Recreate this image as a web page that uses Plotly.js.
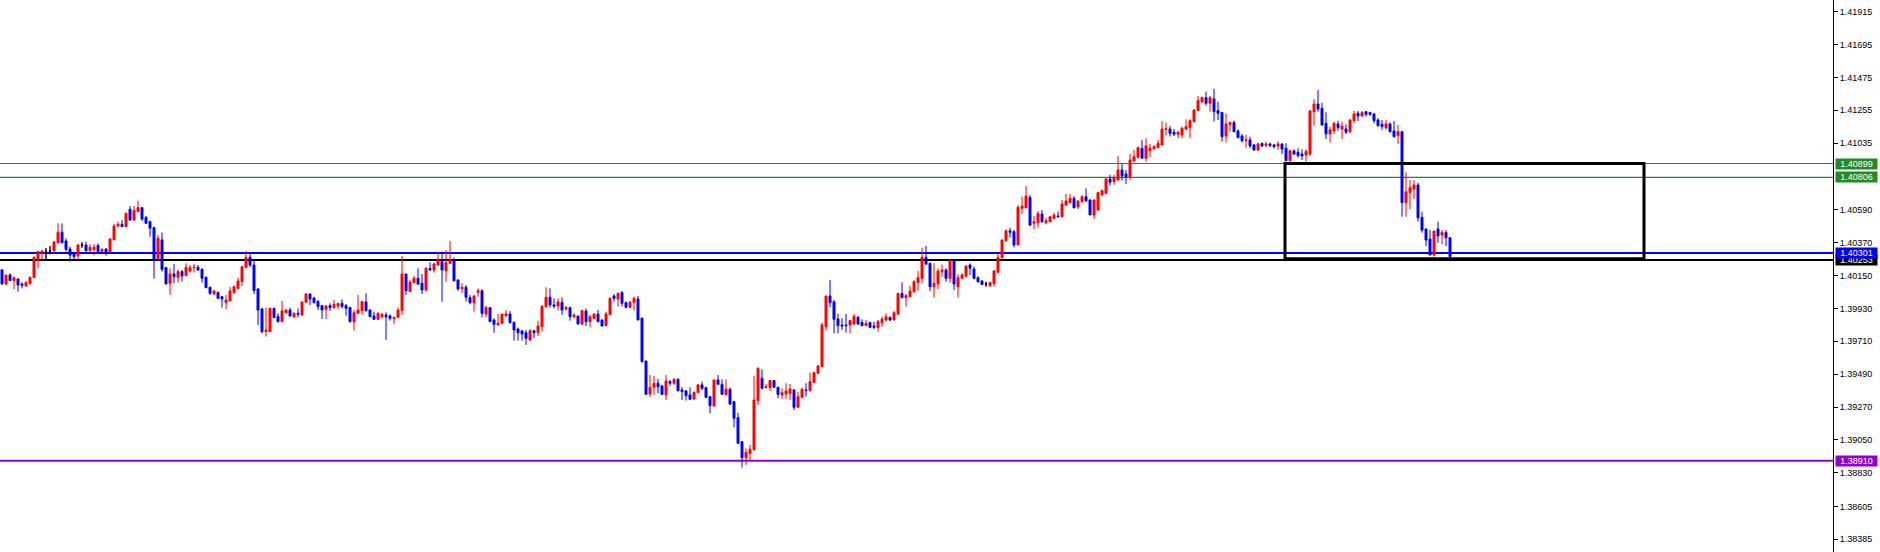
<!DOCTYPE html>
<html>
<head>
<meta charset="utf-8">
<script src="https://cdn.plot.ly/plotly-3.0.1.min.js"></script>
<style>
  html, body { margin: 0; padding: 0; background: #ffffff; }
  #chart { width: 1880px; height: 552px; }
</style>
</head>
<body>
<div id="chart"></div>
<script>
// ---------- DATA ----------
const open = [
1.40187,1.40093,1.40153,1.40116,1.40127,1.40093,1.40080,1.40098,1.40136,1.40258,
1.40303,1.40310,1.40314,1.40314,1.40370,1.40439,1.40381,1.40327,1.40298,1.40281,
1.40354,1.40354,1.40316,1.40325,1.40350,1.40310,1.40327,1.40307,1.40388,1.40481,
1.40492,1.40477,1.40593,1.40521,1.40577,1.40604,1.40539,1.40510,1.40470,1.40261,
1.40388,1.40203,1.40098,1.40160,1.40138,1.40176,1.40149,1.40180,1.40203,1.40205,
1.40191,1.40138,1.40071,1.40026,1.40037,1.40008,1.39968,1.39982,1.40037,1.40064,
1.40109,1.40205,1.40272,1.40220,1.40060,1.39926,1.39774,1.39774,1.39930,1.39875,
1.39841,1.39901,1.39919,1.39875,1.39897,1.39886,1.39971,1.40026,1.39999,1.39975,
1.39948,1.39924,1.39948,1.39935,1.39946,1.39964,1.39948,1.39935,1.39841,1.39897,
1.39915,1.39973,1.39919,1.39879,1.39857,1.39874,1.39886,1.39879,1.39861,1.39870,
1.39915,1.40160,1.40042,1.40102,1.40131,1.40098,1.40053,1.40198,1.40187,1.40220,
1.40249,1.40182,1.40231,1.40254,1.40120,1.40062,1.40071,1.40002,1.39968,1.40037,
1.40048,1.39892,1.39935,1.39852,1.39819,1.39830,1.39883,1.39892,1.39837,1.39792,
1.39779,1.39767,1.39718,1.39781,1.39767,1.39808,1.39941,1.40004,1.39953,1.39946,
1.39970,1.39926,1.39935,1.39874,1.39879,1.39825,1.39912,1.39841,1.39863,1.39892,
1.39852,1.39814,1.39888,1.40013,1.39993,1.40035,1.39968,1.39937,1.39971,1.39993,
1.39864,1.39578,1.39357,1.39402,1.39429,1.39411,1.39351,1.39440,1.39429,1.39455,
1.39384,1.39377,1.39351,1.39324,1.39368,1.39418,1.39400,1.39339,1.39277,1.39451,
1.39422,1.39351,1.39389,1.39306,1.39199,1.39038,1.38931,1.38960,1.38983,1.39313,
1.39462,1.39400,1.39400,1.39447,1.39402,1.39351,1.39357,1.39362,1.39384,1.39268,
1.39335,1.39384,1.39380,1.39435,1.39496,1.39540,1.39808,1.40013,1.39973,1.39859,
1.39819,1.39819,1.39819,1.39826,1.39870,1.39835,1.39814,1.39835,1.39812,1.39801,
1.39834,1.39852,1.39870,1.39852,1.39892,1.40030,1.40001,1.40008,1.40041,1.40102,
1.40131,1.40271,1.40231,1.40075,1.40093,1.40175,1.40186,1.40131,1.40249,1.40075,
1.40131,1.40146,1.40220,1.40193,1.40135,1.40113,1.40093,1.40081,1.40097,1.40171,
1.40269,1.40383,1.40449,1.40443,1.40354,1.40599,1.40603,1.40672,1.40499,1.40503,
1.40561,1.40503,1.40510,1.40532,1.40548,1.40543,1.40621,1.40637,1.40666,1.40610,
1.40644,1.40677,1.40655,1.40555,1.40588,1.40690,1.40700,1.40796,1.40778,1.40789,
1.40856,1.40829,1.40811,1.40916,1.40941,1.41001,1.40934,1.40985,1.40997,1.41005,
1.41023,1.41128,1.41130,1.41108,1.41095,1.41090,1.41130,1.41139,1.41179,1.41253,
1.41313,1.41340,1.41302,1.41331,1.41253,1.41240,1.41083,1.41161,1.41173,1.41117,
1.41083,1.41052,1.41057,1.41023,1.40990,1.41034,1.41021,1.41030,1.41023,1.41017,
1.41030,1.41001,1.40918,1.40983,1.40974,1.40963,1.40956,1.40963,1.41246,1.41297,
1.41268,1.41168,1.41097,1.41119,1.41164,1.41130,1.41130,1.41112,1.41186,1.41235,
1.41217,1.41246,1.41240,1.41231,1.41190,1.41161,1.41139,1.41164,1.41117,1.41086,
1.41112,1.40637,1.40704,1.40728,1.40755,1.40539,1.40461,1.40394,1.40287,1.40461,
1.40420,1.40438,1.40403
];
const high = [
1.40194,1.40153,1.40165,1.40142,1.40127,1.40104,1.40109,1.40142,1.40276,1.40314,
1.40321,1.40332,1.40347,1.40381,1.40499,1.40499,1.40399,1.40343,1.40310,1.40359,
1.40372,1.40376,1.40359,1.40361,1.40365,1.40332,1.40332,1.40399,1.40495,1.40510,
1.40521,1.40570,1.40615,1.40615,1.40651,1.40604,1.40548,1.40517,1.40477,1.40421,
1.40437,1.40205,1.40198,1.40227,1.40191,1.40187,1.40232,1.40220,1.40227,1.40220,
1.40198,1.40142,1.40075,1.40053,1.40042,1.40013,1.40020,1.40075,1.40082,1.40136,
1.40214,1.40314,1.40294,1.40254,1.40064,1.39935,1.39935,1.39935,1.39935,1.39897,
1.39980,1.39926,1.39935,1.39904,1.39930,1.39975,1.40031,1.40031,1.40008,1.39986,
1.39953,1.39953,1.39964,1.39986,1.39968,1.39991,1.39959,1.39942,1.39919,1.40020,
1.39980,1.40031,1.39924,1.39908,1.39904,1.39897,1.39903,1.39890,1.39874,1.39937,
1.40280,1.40160,1.40120,1.40147,1.40198,1.40160,1.40205,1.40238,1.40236,1.40309,
1.40309,1.40321,1.40381,1.40271,1.40124,1.40098,1.40086,1.40019,1.40019,1.40064,
1.40057,1.39946,1.39935,1.39863,1.39892,1.39892,1.39919,1.39912,1.39841,1.39801,
1.39785,1.39785,1.39792,1.39785,1.39848,1.39946,1.40071,1.40064,1.39997,1.39997,
1.40004,1.39946,1.39941,1.39897,1.39879,1.39919,1.39930,1.39886,1.39897,1.39919,
1.39857,1.39908,1.40004,1.40026,1.40035,1.40046,1.39975,1.39980,1.40009,1.40013,
1.39868,1.39580,1.39484,1.39478,1.39458,1.39418,1.39484,1.39451,1.39462,1.39462,
1.39402,1.39384,1.39402,1.39373,1.39424,1.39440,1.39406,1.39344,1.39455,1.39484,
1.39455,1.39455,1.39400,1.39311,1.39232,1.39043,1.38994,1.39016,1.39478,1.39536,
1.39522,1.39424,1.39451,1.39451,1.39406,1.39395,1.39429,1.39424,1.39389,1.39373,
1.39400,1.39429,1.39500,1.39507,1.39551,1.39835,1.40013,1.40120,1.39986,1.39893,
1.39864,1.39893,1.39852,1.39893,1.39879,1.39857,1.39852,1.39841,1.39841,1.39852,
1.39874,1.39896,1.39874,1.39912,1.40035,1.40104,1.40026,1.40081,1.40119,1.40180,
1.40336,1.40347,1.40235,1.40231,1.40198,1.40224,1.40198,1.40258,1.40253,1.40157,
1.40168,1.40220,1.40231,1.40209,1.40146,1.40119,1.40108,1.40108,1.40186,1.40298,
1.40391,1.40458,1.40470,1.40454,1.40621,1.40677,1.40748,1.40688,1.40548,1.40581,
1.40588,1.40536,1.40548,1.40570,1.40577,1.40655,1.40695,1.40695,1.40681,1.40655,
1.40688,1.40733,1.40660,1.40655,1.40711,1.40725,1.40800,1.40823,1.40823,1.40950,
1.40896,1.40856,1.40963,1.40990,1.41012,1.41057,1.41068,1.41030,1.41023,1.41057,
1.41184,1.41173,1.41150,1.41130,1.41117,1.41146,1.41195,1.41195,1.41262,1.41351,
1.41347,1.41380,1.41351,1.41398,1.41313,1.41240,1.41235,1.41179,1.41186,1.41128,
1.41097,1.41090,1.41079,1.41030,1.41039,1.41039,1.41046,1.41039,1.41030,1.41046,
1.41034,1.41034,1.40990,1.40994,1.41001,1.40994,1.40994,1.41257,1.41329,1.41391,
1.41306,1.41242,1.41146,1.41179,1.41186,1.41179,1.41161,1.41197,1.41251,1.41251,
1.41251,1.41251,1.41246,1.41235,1.41202,1.41190,1.41190,1.41173,1.41184,1.41157,
1.41115,1.40840,1.40788,1.40788,1.40771,1.40577,1.40465,1.40454,1.40447,1.40510,
1.40454,1.40454,1.40403
];
const low = [
1.40090,1.40087,1.40116,1.40058,1.40042,1.40064,1.40075,1.40087,1.40136,1.40196,
1.40258,1.40258,1.40292,1.40314,1.40361,1.40365,1.40310,1.40243,1.40254,1.40254,
1.40336,1.40310,1.40310,1.40285,1.40310,1.40308,1.40283,1.40307,1.40388,1.40472,
1.40477,1.40477,1.40515,1.40517,1.40575,1.40515,1.40499,1.40410,1.40129,1.40254,
1.40176,1.40093,1.40020,1.40098,1.40102,1.40109,1.40149,1.40169,1.40169,1.40182,
1.40102,1.40064,1.40020,1.40020,1.39993,1.39935,1.39924,1.39975,1.40026,1.40064,
1.40080,1.40198,1.40205,1.40026,1.39819,1.39763,1.39741,1.39774,1.39868,1.39837,
1.39837,1.39897,1.39875,1.39864,1.39870,1.39881,1.39971,1.39953,1.39964,1.39919,
1.39859,1.39857,1.39913,1.39930,1.39926,1.39930,1.39881,1.39835,1.39781,1.39893,
1.39886,1.39908,1.39870,1.39852,1.39852,1.39863,1.39718,1.39848,1.39825,1.39863,
1.39886,1.40019,1.40042,1.40098,1.40086,1.40026,1.40042,1.40182,1.40169,1.40216,
1.39975,1.40109,1.40231,1.40109,1.40048,1.40031,1.39975,1.39957,1.39908,1.40008,
1.39870,1.39870,1.39841,1.39767,1.39819,1.39825,1.39870,1.39830,1.39714,1.39714,
1.39714,1.39685,1.39714,1.39730,1.39745,1.39774,1.39937,1.39937,1.39930,1.39915,
1.39886,1.39915,1.39848,1.39863,1.39825,1.39819,1.39812,1.39803,1.39857,1.39837,
1.39808,1.39814,1.39888,1.39975,1.39942,1.39942,1.39930,1.39930,1.39915,1.39852,
1.39567,1.39351,1.39339,1.39351,1.39362,1.39351,1.39317,1.39411,1.39418,1.39373,
1.39317,1.39313,1.39317,1.39317,1.39362,1.39384,1.39335,1.39228,1.39273,1.39418,
1.39351,1.39351,1.39284,1.39134,1.39027,1.38865,1.38882,1.38916,1.38983,1.39284,
1.39389,1.39395,1.39377,1.39400,1.39328,1.39322,1.39324,1.39317,1.39250,1.39268,
1.39328,1.39339,1.39373,1.39429,1.39491,1.39536,1.39781,1.39937,1.39763,1.39763,
1.39785,1.39768,1.39763,1.39819,1.39819,1.39814,1.39812,1.39797,1.39792,1.39774,
1.39807,1.39841,1.39845,1.39852,1.39885,1.40001,1.39941,1.40004,1.40035,1.40048,
1.40097,1.40220,1.40046,1.40001,1.40059,1.40142,1.40108,1.40102,1.40053,1.40001,
1.40124,1.40135,1.40153,1.40124,1.40104,1.40086,1.40075,1.40075,1.40075,1.40168,
1.40264,1.40376,1.40403,1.40338,1.40354,1.40561,1.40599,1.40481,1.40458,1.40470,
1.40503,1.40492,1.40505,1.40528,1.40536,1.40543,1.40617,1.40632,1.40599,1.40594,
1.40637,1.40640,1.40555,1.40528,1.40584,1.40680,1.40695,1.40751,1.40756,1.40785,
1.40785,1.40762,1.40789,1.40912,1.40934,1.40934,1.40912,1.40941,1.40990,1.41001,
1.41023,1.41086,1.41079,1.41083,1.41068,1.41068,1.41124,1.41068,1.41175,1.41253,
1.41302,1.41286,1.41246,1.41179,1.41190,1.41046,1.41039,1.41112,1.41108,1.41068,
1.41039,1.41005,1.41001,1.40983,1.40983,1.41008,1.41008,1.41008,1.41001,1.40990,
1.40963,1.40918,1.40912,1.40956,1.40938,1.40923,1.40912,1.40950,1.41152,1.41246,
1.41152,1.41063,1.41039,1.41097,1.41119,1.41063,1.41097,1.41101,1.41168,1.41184,
1.41213,1.41213,1.41219,1.41168,1.41146,1.41124,1.41124,1.41108,1.41072,1.41030,
1.40543,1.40543,1.40594,1.40661,1.40510,1.40436,1.40347,1.40287,1.40276,1.40369,
1.40360,1.40347,1.40276
];
const close = [
1.40093,1.40153,1.40116,1.40136,1.40087,1.40085,1.40104,1.40138,1.40272,1.40310,
1.40314,1.40310,1.40314,1.40374,1.40439,1.40370,1.40325,1.40287,1.40276,1.40354,
1.40354,1.40316,1.40339,1.40339,1.40310,1.40325,1.40307,1.40394,1.40481,1.40492,
1.40477,1.40566,1.40521,1.40584,1.40604,1.40528,1.40499,1.40466,1.40254,1.40399,
1.40191,1.40093,1.40160,1.40142,1.40176,1.40147,1.40205,1.40203,1.40205,1.40187,
1.40131,1.40069,1.40031,1.40046,1.39997,1.39993,1.39986,1.40046,1.40075,1.40113,
1.40209,1.40272,1.40220,1.40049,1.39919,1.39774,1.39785,1.39930,1.39868,1.39841,
1.39913,1.39919,1.39879,1.39897,1.39890,1.39973,1.40026,1.39993,1.39968,1.39942,
1.39919,1.39946,1.39935,1.39957,1.39962,1.39942,1.39930,1.39841,1.39901,1.39919,
1.39975,1.39915,1.39875,1.39857,1.39897,1.39890,1.39874,1.39863,1.39870,1.39919,
1.40160,1.40048,1.40104,1.40131,1.40093,1.40053,1.40198,1.40187,1.40227,1.40254,
1.40187,1.40236,1.40254,1.40115,1.40060,1.40071,1.40004,1.39968,1.40013,1.40048,
1.39897,1.39935,1.39841,1.39823,1.39830,1.39892,1.39892,1.39834,1.39785,1.39767,
1.39759,1.39730,1.39779,1.39767,1.39812,1.39946,1.40004,1.39953,1.39946,1.39973,
1.39919,1.39935,1.39874,1.39886,1.39825,1.39915,1.39841,1.39874,1.39892,1.39841,
1.39812,1.39893,1.39997,1.39997,1.40031,1.39964,1.39937,1.39971,1.39997,1.39852,
1.39574,1.39355,1.39402,1.39429,1.39406,1.39355,1.39444,1.39429,1.39455,1.39380,
1.39373,1.39346,1.39322,1.39368,1.39418,1.39395,1.39335,1.39279,1.39451,1.39422,
1.39355,1.39389,1.39290,1.39195,1.39027,1.38931,1.38967,1.38987,1.39317,1.39529,
1.39395,1.39406,1.39447,1.39402,1.39355,1.39366,1.39377,1.39391,1.39268,1.39339,
1.39389,1.39380,1.39440,1.39500,1.39545,1.39819,1.40013,1.39968,1.39857,1.39814,
1.39812,1.39814,1.39848,1.39875,1.39826,1.39814,1.39830,1.39803,1.39803,1.39841,
1.39858,1.39874,1.39852,1.39901,1.40030,1.40001,1.40015,1.40046,1.40108,1.40135,
1.40271,1.40226,1.40075,1.40097,1.40180,1.40186,1.40131,1.40249,1.40093,1.40135,
1.40153,1.40213,1.40198,1.40131,1.40108,1.40090,1.40093,1.40102,1.40180,1.40271,
1.40387,1.40449,1.40438,1.40354,1.40606,1.40614,1.40681,1.40487,1.40510,1.40565,
1.40510,1.40516,1.40543,1.40554,1.40543,1.40628,1.40648,1.40666,1.40603,1.40648,
1.40677,1.40650,1.40555,1.40655,1.40704,1.40718,1.40796,1.40774,1.40805,1.40856,
1.40816,1.40811,1.40923,1.40945,1.41005,1.40934,1.41017,1.41001,1.41012,1.41034,
1.41130,1.41130,1.41101,1.41095,1.41108,1.41135,1.41146,1.41186,1.41257,1.41320,
1.41340,1.41302,1.41340,1.41246,1.41235,1.41079,1.41164,1.41173,1.41112,1.41072,
1.41052,1.41057,1.41017,1.40990,1.41030,1.41017,1.41030,1.41019,1.41012,1.41030,
1.40996,1.40918,1.40985,1.40963,1.40952,1.40950,1.40979,1.41251,1.41297,1.41264,
1.41157,1.41097,1.41124,1.41168,1.41139,1.41150,1.41108,1.41190,1.41231,1.41217,
1.41240,1.41228,1.41228,1.41186,1.41152,1.41146,1.41164,1.41112,1.41079,1.41112,
1.40637,1.40710,1.40737,1.40755,1.40536,1.40454,1.40387,1.40287,1.40447,1.40414,
1.40438,1.40403,1.40276
];

// horizontal levels drawn on the chart (listed in drawing order, last on top)
const levelValues = [1.40899, 1.40806, 1.40253, 1.40301, 1.38910];
const levelLabels = ['1.40899', '1.40806', '1.40253', '1.40301', '1.38910'];
const levelColors = ['#228b22', '#228b22', '#000000', '#0000ff', '#9400d3'];
const levelWidths = [1.2, 1.2, 2, 2, 2];

// price scale ticks
const tickValues = [1.41915, 1.41695, 1.41475, 1.41255, 1.41035, 1.40590, 1.40370, 1.40150,
                    1.39930, 1.39710, 1.39490, 1.39270, 1.39050, 1.38830, 1.38605, 1.38385];
const tickLabels = ['1.41915', '1.41695', '1.41475', '1.41255', '1.41035', '1.40590', '1.40370', '1.40150',
                    '1.39930', '1.39710', '1.39490', '1.39270', '1.39050', '1.38830', '1.38605', '1.38385'];

// drawn rectangle (bar index range, price range)
const zoneBars = [320.75, 410.5];
const zonePrices = [1.40262, 1.40899];

// ---------- CHART ----------
const x = open.map((_, i) => i);
const dojiIdx = x.filter(i => open[i] === close[i]);

const main = {
  type: 'candlestick',
  x: x, open: open, high: high, low: low, close: close,
  increasing: { line: { color: '#ff0000', width: 1 }, fillcolor: '#ff0000' },
  decreasing: { line: { color: '#0000ff', width: 1 }, fillcolor: '#0000ff' },
  whiskerwidth: 0,
  hoverinfo: 'skip',
  showlegend: false
};
const doji = {
  type: 'candlestick',
  x: dojiIdx,
  open: dojiIdx.map(i => open[i]), high: dojiIdx.map(i => high[i]),
  low: dojiIdx.map(i => low[i]), close: dojiIdx.map(i => close[i]),
  increasing: { line: { color: '#000000', width: 1 }, fillcolor: '#000000' },
  decreasing: { line: { color: '#000000', width: 1 }, fillcolor: '#000000' },
  whiskerwidth: 0,
  hoverinfo: 'skip',
  showlegend: false
};

const shapes = levelValues.map((v, i) => ({
  type: 'line', xref: 'paper', yref: 'y', x0: 0, x1: 1, y0: v, y1: v,
  line: { color: levelColors[i], width: levelWidths[i] }, layer: 'below'
}));
shapes.push({
  type: 'rect', xref: 'x', yref: 'y',
  x0: zoneBars[0], x1: zoneBars[1], y0: zonePrices[0], y1: zonePrices[1],
  line: { color: '#000000', width: 3 }, fillcolor: 'rgba(0,0,0,0)', layer: 'above'
});

const annotations = levelValues.map((v, i) => ({
  xref: 'paper', yref: 'y', x: 1, y: v, xanchor: 'left', yanchor: 'middle', xshift: 2,
  text: levelLabels[i], showarrow: false,
  font: { family: 'Liberation Sans, Arial, sans-serif', size: 9, color: '#ffffff' },
  bgcolor: levelColors[i], borderpad: 0, width: 41, height: 10, align: 'center'
}));

const layout = {
  width: 1880, height: 552,
  margin: { l: 0, r: 47, t: 0, b: 0, pad: 0 },
  paper_bgcolor: '#ffffff', plot_bgcolor: '#ffffff',
  showlegend: false,
  hovermode: false,
  boxgap: 0.3, boxgroupgap: 0.3,
  xaxis: {
    range: [-0.5, 457.75], visible: false, showgrid: false, zeroline: false,
    rangeslider: { visible: false }, fixedrange: true
  },
  yaxis: {
    side: 'right', range: [1.38300, 1.41993], showgrid: false, zeroline: false,
    showline: true, linecolor: '#000000', linewidth: 1, mirror: false,
    ticks: 'outside', ticklen: 4, tickcolor: '#000000', tickwidth: 1,
    tickvals: tickValues, ticktext: tickLabels,
    tickfont: { family: 'Liberation Sans, Arial, sans-serif', size: 9, color: '#000000' },
    fixedrange: true
  },
  shapes: shapes,
  annotations: annotations
};

Plotly.newPlot('chart', [main, doji], layout, { displayModeBar: false, staticPlot: true });
</script>
</body>
</html>
